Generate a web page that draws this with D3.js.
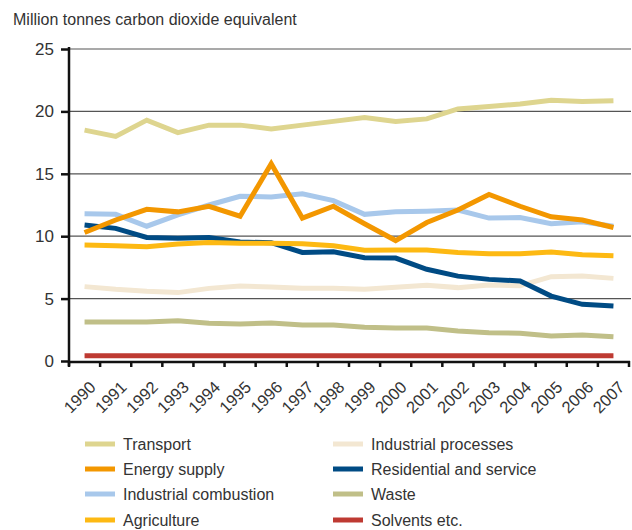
<!DOCTYPE html>
<html>
<head>
<meta charset="utf-8">
<script src="https://cdn.jsdelivr.net/npm/d3@7"></script>
<style>
  body { margin: 0; background: #fff; }
  svg { display: block; font-family: "Liberation Sans", Arial, sans-serif; }
</style>
</head>
<body>
<div id="chart"></div>
<script>
// ---- data ----
const years = d3.range(1990, 2008);

const transport = [18.5, 18.0, 19.3, 18.3, 18.9, 18.9, 18.6, 18.9, 19.2, 19.5, 19.2, 19.4, 20.2, 20.4, 20.6, 20.9, 20.8, 20.85];
const energySupply = [10.3, 11.3, 12.15, 11.95, 12.4, 11.6, 15.8, 11.45, 12.4, 11.0, 9.65, 11.1, 12.1, 13.35, 12.4, 11.55, 11.3, 10.7];
const industrialCombustion = [11.8, 11.75, 10.8, 11.7, 12.5, 13.2, 13.15, 13.4, 12.85, 11.75, 11.95, 12.0, 12.1, 11.45, 11.5, 11.0, 11.15, 10.8];
const agriculture = [9.3, 9.24, 9.16, 9.37, 9.5, 9.43, 9.43, 9.4, 9.24, 8.87, 8.9, 8.9, 8.7, 8.6, 8.6, 8.73, 8.52, 8.44];
const industrialProcesses = [5.96, 5.74, 5.58, 5.48, 5.82, 6.0, 5.93, 5.82, 5.82, 5.74, 5.9, 6.06, 5.88, 6.09, 6.04, 6.76, 6.81, 6.62];
const residential = [10.9, 10.63, 9.9, 9.83, 9.9, 9.53, 9.48, 8.7, 8.76, 8.28, 8.25, 7.35, 6.8, 6.54, 6.41, 5.2, 4.54, 4.4];
const waste = [3.12, 3.12, 3.12, 3.23, 3.02, 2.96, 3.04, 2.88, 2.88, 2.7, 2.64, 2.64, 2.4, 2.27, 2.22, 2.0, 2.08, 1.95];
const solvents = [0.42, 0.42, 0.42, 0.42, 0.42, 0.42, 0.42, 0.42, 0.42, 0.42, 0.42, 0.42, 0.42, 0.42, 0.42, 0.42, 0.42, 0.42];

const yTicks = [0, 5, 10, 15, 20, 25];

// drawing order (back to front) follows the picture
const series = [
  { name: 'Solvents etc.', values: solvents, color: '#be3a32' },
  { name: 'Waste', values: waste, color: '#c0bf88' },
  { name: 'Industrial processes', values: industrialProcesses, color: '#f3e7d2' },
  { name: 'Residential and service', values: residential, color: '#004b84' },
  { name: 'Agriculture', values: agriculture, color: '#fdb913' },
  { name: 'Industrial combustion', values: industrialCombustion, color: '#a8c8eb' },
  { name: 'Energy supply', values: energySupply, color: '#f39700' },
  { name: 'Transport', values: transport, color: '#ded58f' }
];

const legendOrder = [
  ['Transport', 'Industrial processes'],
  ['Energy supply', 'Residential and service'],
  ['Industrial combustion', 'Waste'],
  ['Agriculture', 'Solvents etc.']
];

// ---- layout ----
const W = 632, H = 530;
const plot = { left: 69, right: 629, top: 49, bottom: 361 };

const svg = d3.select('#chart').append('svg')
  .attr('width', W).attr('height', H);

const x = d3.scaleBand()
  .domain(years)
  .range([plot.left, plot.right]);

const y = d3.scaleLinear()
  .domain([0, 25])
  .range([plot.bottom, plot.top]);

// title
svg.append('text')
  .attr('x', 13).attr('y', 25)
  .attr('font-size', 16)
  .attr('fill', '#333')
  .text('Million tonnes carbon dioxide equivalent');

// gridlines
svg.append('g')
  .selectAll('line')
  .data(yTicks.filter(d => d > 0))
  .join('line')
  .attr('x1', plot.left).attr('x2', plot.right + 2)
  .attr('y1', d => y(d)).attr('y2', d => y(d))
  .attr('stroke', '#555')
  .attr('stroke-width', 1.2);

// lines
const line = d3.line()
  .x((d, i) => x(years[i]) + x.bandwidth() / 2)
  .y(d => y(d));

svg.append('g')
  .selectAll('path')
  .data(series)
  .join('path')
  .attr('d', d => line(d.values))
  .attr('fill', 'none')
  .attr('stroke', d => d.color)
  .attr('stroke-width', 5)
  .attr('stroke-linejoin', 'miter');

// y axis
const yAxis = svg.append('g')
  .attr('transform', `translate(${plot.left},0)`)
  .call(d3.axisLeft(y).tickValues(yTicks).tickSize(8).tickPadding(7).tickFormat(d3.format('d')));
yAxis.select('.domain').remove();
yAxis.selectAll('.tick line').attr('stroke', '#111').attr('stroke-width', 2.5);
yAxis.selectAll('.tick text')
  .attr('font-size', 17).attr('fill', '#333')
  .attr('font-family', '"Liberation Sans", Arial, sans-serif');

svg.append('line')
  .attr('x1', plot.left).attr('x2', plot.left)
  .attr('y1', plot.top - 2).attr('y2', plot.bottom + 5)
  .attr('stroke', '#111').attr('stroke-width', 2.5);

// x axis: ticks at band boundaries, labels at band centres
const xAxisG = svg.append('g');
xAxisG.append('line')
  .attr('x1', plot.left).attr('x2', plot.right + 1)
  .attr('y1', plot.bottom + 1).attr('y2', plot.bottom + 1)
  .attr('stroke', '#111').attr('stroke-width', 2.5);

const boundaries = years.map(d => x(d)).concat([x(years[years.length - 1]) + x.bandwidth()]);
xAxisG.selectAll('.xtick')
  .data(boundaries)
  .join('line')
  .attr('class', 'xtick')
  .attr('x1', d => d).attr('x2', d => d)
  .attr('y1', plot.bottom).attr('y2', plot.bottom + 6)
  .attr('stroke', '#111').attr('stroke-width', 2.5);

xAxisG.selectAll('.xlabel')
  .data(years)
  .join('text')
  .attr('class', 'xlabel')
  .attr('transform', d => `translate(${x(d) + x.bandwidth() / 2 + 4},${plot.bottom + 19}) rotate(-45)`)
  .attr('text-anchor', 'end')
  .attr('dy', '0.7em')
  .attr('font-size', 16.5)
  .attr('fill', '#333')
  .text(d => d);

// legend
const byName = new Map(series.map(s => [s.name, s]));
const legend = svg.append('g');
const colX = [85, 333];
const rowY = [444, 469, 494, 520];

legendOrder.forEach((row, r) => {
  row.forEach((name, c) => {
    const s = byName.get(name);
    const g = legend.append('g').attr('transform', `translate(${colX[c]},${rowY[r]})`);
    g.append('line')
      .attr('x1', 0).attr('x2', 30)
      .attr('y1', 0).attr('y2', 0)
      .attr('stroke', s.color).attr('stroke-width', 5);
    g.append('text')
      .attr('x', 38).attr('y', 0)
      .attr('dy', '0.35em')
      .attr('font-size', 16)
      .attr('fill', '#333')
      .text(name);
  });
});
</script>
</body>
</html>
